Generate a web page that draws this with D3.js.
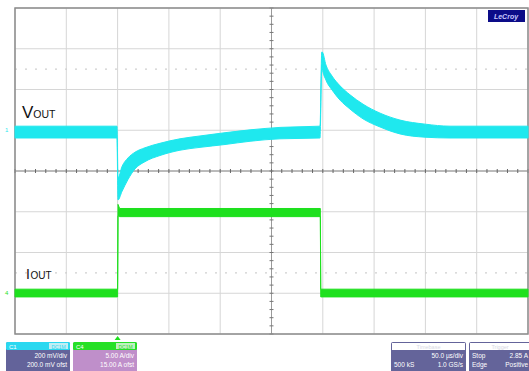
<!DOCTYPE html>
<html><head><meta charset="utf-8">
<script src="https://cdn.jsdelivr.net/npm/d3@7"></script>
<style>html,body{margin:0;padding:0;background:#fff;}svg{display:block;}</style>
</head><body>
<script>
// ---- data (time in µs, amplitude in divisions from screen centre) ----
const xGridTicks = [0,50,100,150,200,250,300,350,400,450,500];
const yGridTicks = [-4,-3,-2,-1,0,1,2,3,4];
const dottedLevels = [2.5,-2.5];

const vTime  = [0, 99.4, 100.4, 104.3, 110.1, 116.9, 126.7, 141.3, 160.8, 180.3, 204.7, 229.1, 258.3, 297.3, 299.0, 299.4, 303.1, 309.0, 316.8, 326.5, 339.2, 355.8, 375.2, 399.6, 424.0, 500];
const vHigh  = [1.10, 1.10, -0.17, 0.11, 0.32, 0.46, 0.57, 0.68, 0.79, 0.86, 0.94, 1.01, 1.07, 1.10, 2.92, 2.92, 2.60, 2.33, 2.09, 1.87, 1.64, 1.42, 1.25, 1.15, 1.10, 1.10];
const vLow   = [0.81, 0.81, -0.71, -0.50, -0.21, 0.05, 0.23, 0.38, 0.51, 0.58, 0.65, 0.73, 0.79, 0.81, 2.60, 2.53, 2.23, 1.99, 1.74, 1.52, 1.28, 1.08, 0.91, 0.83, 0.81, 0.81];

const iTime  = [0, 100.0, 100.4, 102.0, 297.6, 298.0, 500];
const iHigh  = [-2.90, -2.90, -0.82, -0.92, -0.92, -2.90, -2.90];
const iLow   = [-3.09, -3.09, -1.10, -1.12, -1.12, -3.09, -3.09];

const ch1Lines = ["200 mV/div", "200.0 mV ofst"];
const ch4Lines = ["5.00 A/div", "15.00 A ofst"];
const tbLeft = ["", "500 kS"], tbRight = ["50.0 µs/div", "1.0 GS/s"];
const trLeft = ["Stop", "Edge"], trRight = ["2.85 A", "Positive"];

// ---- layout ----
const W = 529, H = 371;
const svg = d3.select("body").append("svg").attr("width", W).attr("height", H)
  .style("font-family", "'Liberation Sans', Arial, sans-serif");
const x = d3.scaleLinear().domain([0, 500]).range([15, 528]);
const y = d3.scaleLinear().domain([-4, 4]).range([334, 8]);

const CYAN = "#1fe8ee", GREEN = "#1ee01e";

// grid
const g = svg.append("g");
g.selectAll("line.vx").data(xGridTicks).join("line")
  .attr("x1", d => x(d)).attr("x2", d => x(d)).attr("y1", y(4)).attr("y2", y(-4))
  .attr("stroke", "#d6d6d6").attr("stroke-width", 1);
g.selectAll("line.hy").data(yGridTicks).join("line")
  .attr("y1", d => y(d)).attr("y2", d => y(d)).attr("x1", x(0)).attr("x2", x(500))
  .attr("stroke", "#d6d6d6").attr("stroke-width", 1);
g.selectAll("line.dot").data(dottedLevels).join("line")
  .attr("y1", d => y(d)).attr("y2", d => y(d)).attr("x1", x(0)).attr("x2", x(500))
  .attr("stroke", "#cfcfcf").attr("stroke-width", 1.2).attr("stroke-dasharray", "2,8");
// centre lines with minor ticks
g.append("line").attr("x1", x(0)).attr("x2", x(500)).attr("y1", y(0)).attr("y2", y(0)).attr("stroke", "#8a8a8a");
g.append("line").attr("x1", x(250)).attr("x2", x(250)).attr("y1", y(4)).attr("y2", y(-4)).attr("stroke", "#9a9a9a");
g.selectAll("line.tx").data(d3.range(0, 500.1, 10)).join("line")
  .attr("x1", d => x(d)).attr("x2", d => x(d)).attr("y1", y(0) - 2).attr("y2", y(0) + 2).attr("stroke", "#666");
g.selectAll("line.ty").data(d3.range(-4, 4.01, 0.2)).join("line")
  .attr("y1", d => y(d)).attr("y2", d => y(d)).attr("x1", x(250) - 2).attr("x2", x(250) + 2).attr("stroke", "#777");
// frame
g.append("rect").attr("x", x(0)).attr("y", y(4)).attr("width", x(500) - x(0)).attr("height", y(-4) - y(4))
  .attr("fill", "none").attr("stroke", "#8c8c8c").attr("stroke-width", 1.5);

// traces
const vData = vTime.map((t, i) => ({t, hi: vHigh[i], lo: vLow[i]}));
const iData = iTime.map((t, i) => ({t, hi: iHigh[i], lo: iLow[i]}));
const area = d3.area().x(d => x(d.t)).y0(d => y(d.lo)).y1(d => y(d.hi));
const areaSmooth = d3.area().curve(d3.curveMonotoneX).x(d => x(d.t)).y0(d => y(d.lo)).y1(d => y(d.hi));
svg.append("path").datum(iData).attr("d", area).attr("fill", GREEN).attr("stroke", GREEN).attr("stroke-width", 1);
svg.append("path").datum(vData).attr("d", areaSmooth).attr("fill", CYAN).attr("stroke", CYAN).attr("stroke-width", 1);

// channel ground markers
svg.append("text").attr("x", 5).attr("y", y(1.0) + 2).attr("font-size", 6).attr("fill", CYAN).text("1");
svg.append("text").attr("x", 5).attr("y", y(-3.0) + 2).attr("font-size", 6).attr("fill", GREEN).text("4");

// labels
const vl = svg.append("text").attr("x", 22).attr("y", 118).attr("fill", "#111");
vl.append("tspan").attr("font-size", 17).text("V");
vl.append("tspan").attr("font-size", 10.5).text("OUT");
const il = svg.append("text").attr("x", 26).attr("y", 279).attr("fill", "#111");
il.append("tspan").attr("font-size", 14).text("I");
il.append("tspan").attr("font-size", 10).attr("dx", 0.5).text("OUT");

// trigger marker
svg.append("path").attr("d", `M${x(100)-3},${y(-4)+6} L${x(100)},${y(-4)+2} L${x(100)+3},${y(-4)+6} Z`).attr("fill", GREEN);

// top-right logo box
svg.append("rect").attr("x", 488).attr("y", 10).attr("width", 37).attr("height", 12).attr("fill", "#0c0c88");
svg.append("text").attr("x", 506).attr("y", 19).attr("font-size", 7).attr("font-style", "italic").attr("font-weight", "bold")
  .attr("text-anchor", "middle").attr("fill", "#c8c8ff").text("LeCroy");

// bottom boxes
function chanBox(x0, w, headColor, bodyColor, name, lines) {
  const b = svg.append("g");
  b.append("rect").attr("x", x0).attr("y", 342).attr("width", w).attr("height", 32).attr("rx", 2).attr("fill", bodyColor);
  b.append("rect").attr("x", x0).attr("y", 342).attr("width", w).attr("height", 8).attr("rx", 1.5).attr("fill", headColor);
  b.append("rect").attr("x", x0 + w - 21).attr("y", 343).attr("width", 19).attr("height", 6).attr("fill", "#f4f4f4").attr("opacity", 0.75);
  b.append("text").attr("x", x0 + 3).attr("y", 348.5).attr("font-size", 6).attr("fill", "#fff").text(name);
  b.append("text").attr("x", x0 + w - 11.5).attr("y", 348.5).attr("font-size", 5).attr("text-anchor", "middle").attr("fill", headColor).text("DC1M");
  lines.forEach((s, i) => b.append("text").attr("x", x0 + w - 3).attr("y", 358 + i * 8.5)
    .attr("font-size", 6.5).attr("text-anchor", "end").attr("fill", "#fff").text(s));
}
chanBox(6, 64, "#2ad8f0", "#63639a", "C1", ch1Lines);
chanBox(73, 64, "#26e026", "#bf8fca", "C4", ch4Lines);

function infoBox(x0, w, title, left, right) {
  const b = svg.append("g");
  b.append("rect").attr("x", x0).attr("y", 342).attr("width", w).attr("height", 32).attr("rx", 2).attr("fill", "#64649a");
  b.append("rect").attr("x", x0 + 1).attr("y", 343).attr("width", w - 2).attr("height", 7).attr("fill", "#fff");
  b.append("text").attr("x", x0 + w / 2).attr("y", 349).attr("font-size", 5.5).attr("text-anchor", "middle").attr("fill", "#d8d8e4").text(title);
  left.forEach((s, i) => b.append("text").attr("x", x0 + 3).attr("y", 358 + i * 8.5).attr("font-size", 6.5).attr("fill", "#fff").text(s));
  right.forEach((s, i) => b.append("text").attr("x", x0 + w - 3).attr("y", 358 + i * 8.5).attr("font-size", 6.5).attr("text-anchor", "end").attr("fill", "#fff").text(s));
}
infoBox(391, 75, "Timebase", tbLeft, tbRight);
infoBox(469, 62, "Trigger", trLeft, trRight);
</script>
</body></html>
